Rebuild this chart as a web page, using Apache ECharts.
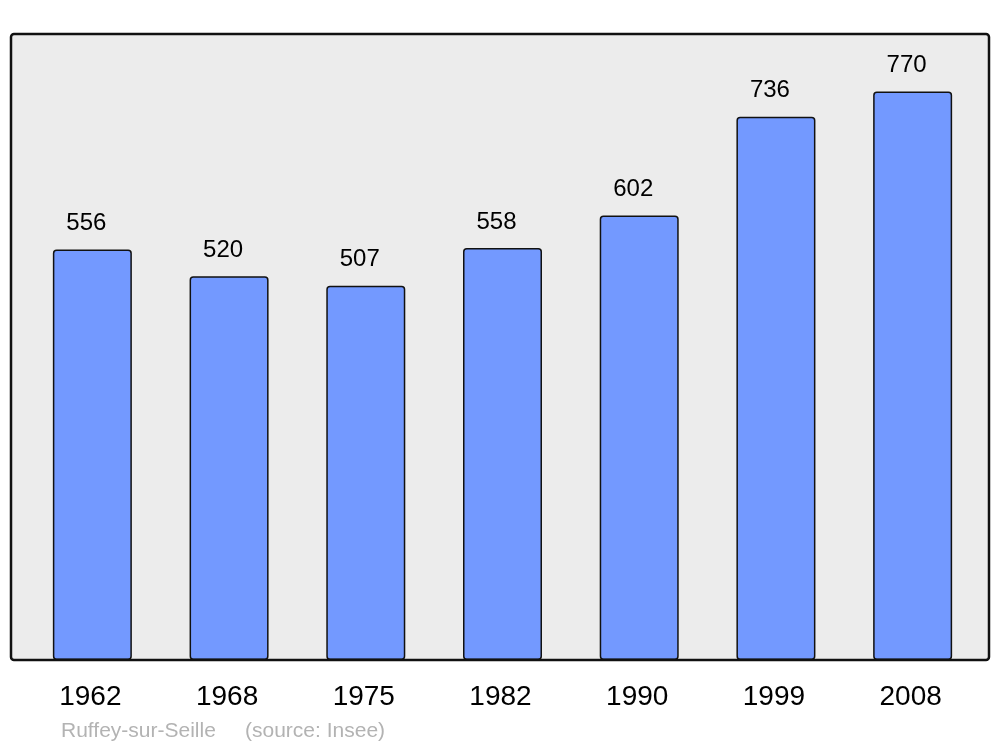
<!DOCTYPE html>
<html>
<head>
<meta charset="utf-8">
<script src="https://cdn.jsdelivr.net/npm/echarts@6/dist/echarts.min.js"></script>
<style>html,body{margin:0;padding:0;background:#fff}#c{width:1000px;height:747px}</style>
</head>
<body>
<div id="c"></div>
<script>
const categories = ['1962','1968','1975','1982','1990','1999','2008'];
const population = [556, 520, 507, 558, 602, 736, 770];
const placeText = 'Ruffey-sur-Seille';
const sourceText = '(source: Insee)';

const chart = echarts.init(document.getElementById('c'));
chart.setOption({
  animation: false,
  backgroundColor: '#ffffff',
  textStyle: { fontFamily: 'Liberation Sans, Arial, sans-serif' },
  graphic: [
    { type: 'rect', z: -10, silent: true,
      shape: { x: 11, y: 34, width: 978, height: 626, r: 3 },
      style: { fill: '#ececec', stroke: null } },
    { type: 'rect', z: 100, silent: true,
      shape: { x: 11, y: 34, width: 978, height: 626, r: 3 },
      style: { fill: null, stroke: '#111111', lineWidth: 2.5 } },
    { type: 'text', left: 61, top: 721, silent: true,
      style: { text: placeText, fill: '#b3b3b3', font: '21px "Liberation Sans", Arial, sans-serif' } },
    { type: 'text', left: 245, top: 721, silent: true,
      style: { text: sourceText, fill: '#b3b3b3', font: '21px "Liberation Sans", Arial, sans-serif' } }
  ],
  grid: { left: 24, right: 19, top: 34, bottom: 87 },
  xAxis: {
    type: 'category',
    data: categories,
    axisLine: { show: false },
    axisTick: { show: false },
    axisLabel: { color: '#000', fontSize: 28, margin: 23, padding: [0, 4, 0, 0],
      fontFamily: 'Liberation Sans, Arial, sans-serif' }
  },
  yAxis: {
    type: 'value', min: 0, max: 848, show: false, splitLine: { show: false }
  },
  series: [{
    type: 'bar',
    data: population,
    barWidth: 79,
    itemStyle: { color: '#7399ff', borderColor: '#111111', borderWidth: 1.5, borderRadius: 3 },
    label: { show: true, position: 'top', distance: 14, offset: [-6, 0], color: '#000', fontSize: 24,
      fontFamily: 'Liberation Sans, Arial, sans-serif' }
  }]
});
</script>
</body>
</html>
